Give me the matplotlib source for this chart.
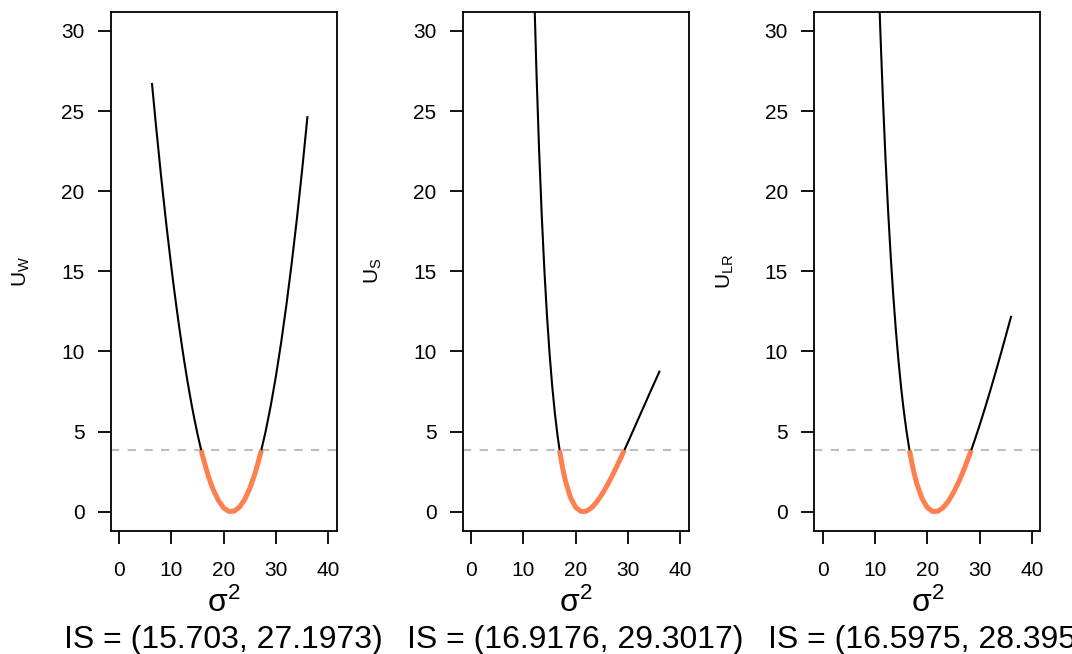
import numpy as np
import matplotlib.pyplot as plt

plt.rcParams['font.family'] = ['Liberation Sans', 'DejaVu Sans']
plt.rcParams['mathtext.fontset'] = 'custom'
plt.rcParams['mathtext.rm'] = 'Liberation Sans'
plt.rcParams['mathtext.it'] = 'Liberation Sans:italic'

# values
sigma2_w = [6.3, 7, 8, 9, 10, 10.5, 11, 11.5, 12, 12.5, 13, 13.5, 14, 14.5, 15, 15.5,
            16, 16.5, 17, 17.5, 18, 19, 20, 21, 22, 23, 24, 25, 26, 27, 28, 29, 30,
            31, 32, 33, 34, 35, 36]
u_w = [26.69, 24.28, 21.03, 18.02, 15.24, 13.94, 12.70, 11.51, 10.38, 9.31, 8.30, 7.35,
       6.45, 5.62, 4.84, 4.12, 3.45, 2.85, 2.30, 1.81, 1.38, 0.70, 0.24, 0.02, 0.04,
       0.28, 0.76, 1.47, 2.41, 3.58, 4.99, 6.63, 8.50, 10.60, 12.94, 15.51, 18.31,
       21.35, 24.62]

sigma2_s = [12, 12.5, 13, 13.5, 14, 14.5, 15, 15.5, 16, 16.5, 17, 17.5, 18, 19, 20, 21,
            22, 23, 24, 25, 26, 27, 28, 29, 30, 31, 32, 33, 34, 35, 36]
u_s = [33.18, 27.43, 22.60, 18.55, 15.15, 12.29, 9.89, 7.88, 6.21, 4.82, 3.67, 2.73,
       1.97, 0.89, 0.28, 0.02, 0.03, 0.24, 0.60, 1.08, 1.64, 2.26, 2.93, 3.63, 4.35,
       5.08, 5.82, 6.55, 7.29, 8.02, 8.74]

sigma2_lr = [10.5, 11, 11.5, 12, 12.5, 13, 13.5, 14, 14.5, 15, 15.5, 16, 16.5, 17, 17.5,
             18, 19, 20, 21, 22, 23, 24, 25, 26, 27, 28, 29, 30, 31, 32, 33, 34, 35, 36]
u_lr = [35.15, 30.19, 25.88, 22.11, 18.83, 15.97, 13.47, 11.29, 9.39, 7.74, 6.31, 5.08,
        4.03, 3.13, 2.37, 1.75, 0.82, 0.27, 0.02, 0.03, 0.25, 0.65, 1.19, 1.86, 2.63,
        3.48, 4.41, 5.40, 6.44, 7.52, 8.64, 9.79, 10.97, 12.16]

ci_w = (15.703, 27.1973)
ci_s = (16.9176, 29.3017)
ci_lr = (16.5975, 28.395)
crit = 3.84

ylabels = ['U_W', 'U_S', 'U_{LR}']
panels = [(sigma2_w, u_w, ci_w), (sigma2_s, u_s, ci_s), (sigma2_lr, u_lr, ci_lr)]

W, H = 1072, 654
fig = plt.figure(figsize=(W / 100, H / 100), dpi=100)
lefts = [110.7, 462.7, 814.3]

for i, (x, u, ci) in enumerate(panels):
    l = lefts[i]
    ax = fig.add_axes([l / W, 1 - 531 / H, 226 / W, (531 - 11.7) / H])
    x = np.array(x)
    u = np.array(u)
    ax.axhline(crit, color='#BEBEBE', lw=1.5, ls=(0, (4, 4)), zorder=1)
    ax.plot(x, u, color='black', lw=1.5, zorder=2)
    inside = (x > ci[0]) & (x < ci[1])
    ox = np.concatenate([[ci[0]], x[inside], [ci[1]]])
    ou = np.concatenate([[crit], u[inside], [crit]])
    ax.plot(ox, ou, color='#FF7F50', lw=3.6, solid_joinstyle='round',
            solid_capstyle='butt', zorder=3)

    ax.set_xlim(-1.6, 41.6)
    ax.set_ylim(-1.2, 31.2)
    ax.set_xticks([0, 10, 20, 30, 40])
    ax.set_yticks([0, 5, 10, 15, 20, 25, 30])
    for sp in ax.spines.values():
        sp.set_linewidth(1.3)
    ax.tick_params(axis='both', direction='out', length=9.4, width=1.3, labelsize=15)
    ax.tick_params(axis='y', pad=9.5)
    ax.tick_params(axis='x', pad=12)

    cx = (l + 113) / W
    fig.text((21.5 + 352 * i) / W, 1 - 271 / H, r'$\mathregular{' + ylabels[i] + '}$',
             rotation=90, ha='center', va='center', fontsize=15)
    fig.text(cx, 1 - 612 / H, r'$\mathregular{σ^2}$', ha='center', va='baseline', fontsize=23)
    fig.text(cx, 1 - 648 / H, 'IS = (%s, %s)' % (ci[0], ci[1]), ha='center',
             va='baseline', fontsize=23)

fig.savefig('out.png', dpi=100)
